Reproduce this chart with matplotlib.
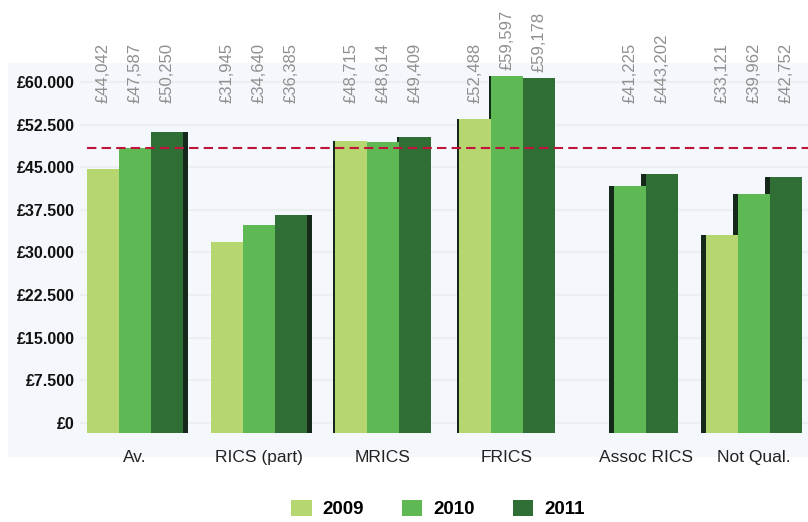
import numpy as np
import matplotlib.pyplot as plt
from matplotlib.patches import Rectangle, Patch
from matplotlib.transforms import blended_transform_factory

plt.rcParams['font.family'] = ['Liberation Sans', 'DejaVu Sans']

categories = ['Av.', 'RICS (part)', 'MRICS', 'FRICS', 'Assoc RICS', 'Not Qual.']
years = ['2009', '2010', '2011']
sal_2009 = [44042, 31945, 48715, 52488, None, 33121]
sal_2010 = [47587, 34640, 48614, 59597, 41225, 39962]
sal_2011 = [50250, 36385, 49409, 59178, 43202, 42752]
lab_2009 = ['£44,042', '£31,945', '£48,715', '£52,488', '', '£33,121']
lab_2010 = ['£47,587', '£34,640', '£48,614', '£59,597', '£41,225', '£39,962']
lab_2011 = ['£50,250', '£36,385', '£49,409', '£59,178', '£443,202', '£42,752']
ytick_vals = [0, 7500, 15000, 22500, 30000, 37500, 45000, 52500, 60000]
ytick_labels = ['£0', '£7.500', '£15.000', '£22.500', '£30.000',
                '£37.500', '£45.000', '£52.500', '£60.000']
avg_line = sal_2010[0]

colors = ['#b6d76f', '#5eb955', '#2f6e34']
shadow = '#15291a'

W, H = 808, 522
fig = plt.figure(figsize=(W/100, H/100), dpi=100)

# light panel behind the chart
fig.patches.append(Rectangle((8/W, (H-457)/H), 800/W, 394/H, transform=fig.transFigure,
                             facecolor='#f4f8fc', edgecolor='none', zorder=-1))

rect = [80/W, (H-433)/H, 728/W, 370/H]

# back wall axis: tick labels + faint grid
axb = fig.add_axes(rect)
axb.set_facecolor('none')
axb.set_ylim(-1760, 63343)
axb.set_xlim(0, 1)
axb.set_yticks(ytick_vals)
axb.set_yticklabels(ytick_labels, fontsize=11.5, fontweight='bold', color='#111111')
axb.tick_params(axis='y', length=0, pad=3.6)
axb.set_xticks([])
axb.grid(axis='y', color='#eceef0', lw=1.6)
for s in axb.spines.values():
    s.set_visible(False)

# bars axis
ylim_top = 61753
ax = fig.add_axes(rect)
ax.set_facecolor('none')
ax.set_ylim(0, ylim_top)
ax.set_xlim(-1.719, 21.03)
ax.set_yticks([])
for s in ax.spines.values():
    s.set_visible(False)

x = np.arange(len(categories)) * 3.87
series = [sal_2009, sal_2010, sal_2011]
labels = [lab_2009, lab_2010, lab_2011]
side_off = [0.16, 0.16, -0.06, -0.06, -0.16, -0.16]
w = 1.0
label_tr = blended_transform_factory(ax.transData, ax.transAxes)

tick_pos = []
for g in range(len(categories)):
    present = []
    for j in range(3):
        v = series[j][g]
        if v is None:
            continue
        xp = x[g] + (j - 1) * w
        present.append(xp)
        ax.bar(xp + side_off[g], v, width=w, color=shadow, zorder=1)
        ax.bar(xp, v, width=w, color=colors[j], zorder=2)
        ly = max(0.892, v / ylim_top + 6/370)
        ax.text(xp, ly, labels[j][g], transform=label_tr, rotation=90,
                ha='center', va='bottom', fontsize=12, color='#8f8f8f', clip_on=False)
    tick_pos.append(np.mean(present))

ax.hlines(avg_line, -1.5, 21.03, colors='#c0143c', lw=1.5,
          linestyles=(0, (4.5, 2.5)), zorder=3)

ax.set_xticks(tick_pos)
ax.set_xticklabels(categories, fontsize=12.5, color='#222222')
ax.tick_params(axis='x', length=0, pad=12)

handles = [Patch(facecolor=c) for c in colors]
fig.legend(handles, years, loc='center', bbox_to_anchor=(438/W, 1-509/H), ncol=3,
           frameon=False, handlelength=1.1, handleheight=1.0, handletextpad=0.6,
           columnspacing=2.0, prop={'size': 13.5, 'weight': 'bold'})

plt.savefig('out.png', dpi=100)
